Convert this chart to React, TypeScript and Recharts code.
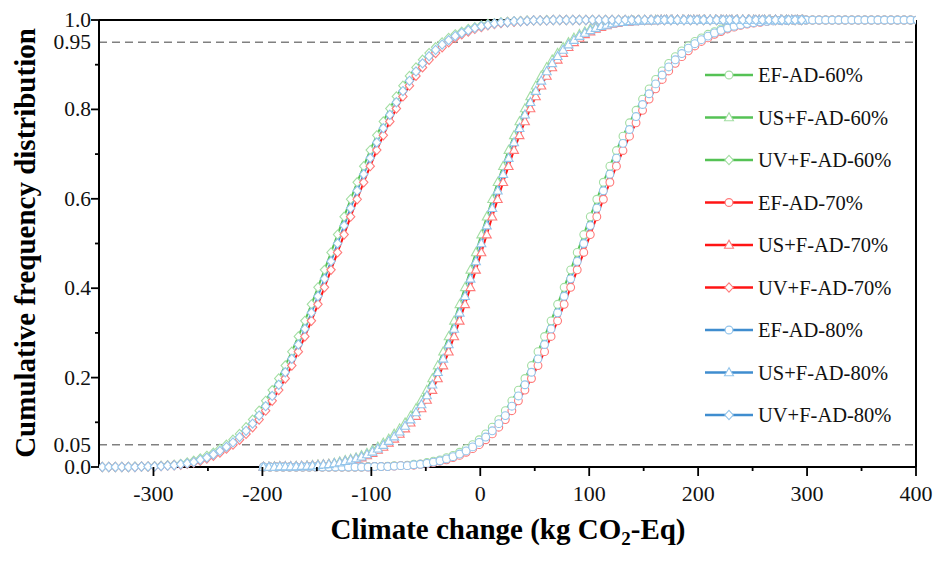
import React from 'react';
import { LineChart, Line, XAxis, YAxis, ReferenceLine } from 'recharts';

// x positions (kg CO2-Eq) of each group's samples
const uvX = [
  -353, -347, -341, -335, -329, -323, -317, -311, -305, -299,
  -293, -287, -281, -275, -269, -263, -257, -251, -245, -239,
  -233, -227, -221, -215, -209, -203, -197, -191, -185, -179,
  -173, -167, -161, -155, -149, -143, -137, -131, -125, -119,
  -113, -107, -101, -95, -89, -83, -77, -71, -65, -59,
  -53, -47, -41, -35, -29, -23, -17, -11, -5, 1,
  7, 13, 19, 25, 31, 37, 43, 49, 55, 61,
  67, 73, 79, 85, 91, 97, 103, 109, 115, 121,
  127, 133, 139, 145, 151, 157, 163, 169, 175, 181,
  187, 193, 199, 205, 211, 217, 223, 229, 235, 241,
  247, 253, 259, 265, 271, 277, 283, 289, 295,
];
const usX = [
  -199, -194, -189, -184, -179, -174, -169, -164, -159, -154,
  -149, -144, -139, -134, -129, -124, -119, -114, -109, -104,
  -99, -94, -89, -84, -79, -74, -69, -64, -59, -54,
  -49, -44, -39, -34, -29, -24, -19, -14, -9, -4,
  1, 6, 11, 16, 21, 26, 31, 36, 41, 46,
  51, 56, 61, 66, 71, 76, 81, 86, 91, 96,
  101, 106, 111, 116, 121, 126, 131, 136, 141, 146,
  151, 156, 161, 166, 171, 176, 181, 186, 191, 196,
  201, 206, 211, 216, 221, 226, 231, 236, 241, 246,
  251, 256, 261, 266, 271, 276, 281, 286, 291, 296,
];
const efX = [
  -199, -193, -187, -181, -175, -169, -163, -157, -151, -145,
  -139, -133, -127, -121, -115, -109, -103, -97, -91, -85,
  -79, -73, -67, -61, -55, -49, -43, -37, -31, -25,
  -19, -13, -7, -1, 5, 11, 17, 23, 29, 35,
  41, 47, 53, 59, 65, 71, 77, 83, 89, 95,
  101, 107, 113, 119, 125, 131, 137, 143, 149, 155,
  161, 167, 173, 179, 185, 191, 197, 203, 209, 215,
  221, 227, 233, 239, 245, 251, 257, 263, 269, 275,
  281, 287, 293, 299, 305, 311, 317, 323, 329, 335,
  341, 347, 353, 359, 365, 371, 377, 383, 389, 395,
  401,
];

// cumulative frequency of each scenario
const uv60 = [
  0, 0, 0, 0, 0, 0, 0.001, 0.001, 0.001, 0.002,
  0.003, 0.004, 0.005, 0.007, 0.01, 0.014, 0.019, 0.025, 0.032, 0.041,
  0.05, 0.061, 0.074, 0.089, 0.106, 0.126, 0.148, 0.172, 0.198, 0.227,
  0.258, 0.292, 0.327, 0.364, 0.402, 0.441, 0.48, 0.52, 0.56, 0.599,
  0.637, 0.673, 0.709, 0.742, 0.773, 0.802, 0.829, 0.853, 0.875, 0.894,
  0.911, 0.926, 0.939, 0.95, 0.96, 0.968, 0.974, 0.98, 0.984, 0.988,
  0.991, 0.993, 0.995, 0.996, 0.997, 0.998, 0.999, 0.999, 0.999, 1,
  1, 1, 1, 1, 1, 1, 1, 1, 1, 1,
  1, 1, 1, 1, 1, 1, 1, 1, 1, 1,
  1, 1, 1, 1, 1, 1, 1, 1, 1, 1,
  1, 1, 1, 1, 1, 1, 1, 1, 1,
];
const uv70 = [
  0, 0, 0, 0, 0, 0, 0, 0.001, 0.001, 0.001,
  0.002, 0.003, 0.004, 0.005, 0.007, 0.01, 0.014, 0.019, 0.025, 0.032,
  0.041, 0.05, 0.061, 0.074, 0.089, 0.106, 0.126, 0.148, 0.172, 0.198,
  0.227, 0.258, 0.292, 0.327, 0.364, 0.402, 0.441, 0.48, 0.52, 0.56,
  0.599, 0.637, 0.673, 0.709, 0.742, 0.773, 0.802, 0.829, 0.853, 0.875,
  0.894, 0.911, 0.926, 0.939, 0.95, 0.96, 0.968, 0.974, 0.98, 0.984,
  0.988, 0.991, 0.993, 0.995, 0.996, 0.997, 0.998, 0.999, 0.999, 0.999,
  1, 1, 1, 1, 1, 1, 1, 1, 1, 1,
  1, 1, 1, 1, 1, 1, 1, 1, 1, 1,
  1, 1, 1, 1, 1, 1, 1, 1, 1, 1,
  1, 1, 1, 1, 1, 1, 1, 1, 1,
];
const uv80 = [
  0, 0, 0, 0, 0, 0, 0, 0.001, 0.001, 0.001,
  0.002, 0.003, 0.004, 0.006, 0.008, 0.011, 0.016, 0.021, 0.028, 0.036,
  0.045, 0.055, 0.067, 0.081, 0.097, 0.115, 0.136, 0.159, 0.184, 0.212,
  0.242, 0.274, 0.309, 0.345, 0.382, 0.421, 0.46, 0.5, 0.54, 0.579,
  0.618, 0.655, 0.691, 0.726, 0.758, 0.788, 0.816, 0.841, 0.864, 0.885,
  0.903, 0.919, 0.933, 0.945, 0.955, 0.964, 0.971, 0.977, 0.982, 0.986,
  0.989, 0.992, 0.994, 0.995, 0.997, 0.997, 0.998, 0.999, 0.999, 0.999,
  1, 1, 1, 1, 1, 1, 1, 1, 1, 1,
  1, 1, 1, 1, 1, 1, 1, 1, 1, 1,
  1, 1, 1, 1, 1, 1, 1, 1, 1, 1,
  1, 1, 1, 1, 1, 1, 1, 1, 1,
];
const us60 = [
  0, 0, 0.001, 0.001, 0.001, 0.001, 0.002, 0.002, 0.003, 0.004,
  0.005, 0.006, 0.007, 0.009, 0.012, 0.015, 0.018, 0.021, 0.026, 0.031,
  0.038, 0.045, 0.054, 0.063, 0.074, 0.086, 0.099, 0.114, 0.131, 0.15,
  0.172, 0.198, 0.227, 0.258, 0.292, 0.327, 0.364, 0.402, 0.441, 0.48,
  0.52, 0.56, 0.599, 0.637, 0.673, 0.709, 0.742, 0.773, 0.802, 0.829,
  0.853, 0.875, 0.894, 0.911, 0.926, 0.939, 0.95, 0.96, 0.968, 0.974,
  0.98, 0.984, 0.988, 0.991, 0.993, 0.995, 0.996, 0.997, 0.998, 0.999,
  0.999, 0.999, 1, 1, 1, 1, 1, 1, 1, 1,
  1, 1, 1, 1, 1, 1, 1, 1, 1, 1,
  1, 1, 1, 1, 1, 1, 1, 1, 1, 1,
];
const us70 = [
  0, 0, 0, 0.001, 0.001, 0.001, 0.001, 0.002, 0.002, 0.003,
  0.004, 0.005, 0.006, 0.007, 0.009, 0.012, 0.015, 0.018, 0.021, 0.026,
  0.031, 0.038, 0.045, 0.054, 0.063, 0.074, 0.086, 0.099, 0.114, 0.131,
  0.15, 0.172, 0.198, 0.227, 0.258, 0.292, 0.327, 0.364, 0.402, 0.441,
  0.48, 0.52, 0.56, 0.599, 0.637, 0.673, 0.709, 0.742, 0.773, 0.802,
  0.829, 0.853, 0.875, 0.894, 0.911, 0.926, 0.939, 0.95, 0.96, 0.968,
  0.974, 0.98, 0.984, 0.988, 0.991, 0.993, 0.995, 0.996, 0.997, 0.998,
  0.999, 0.999, 0.999, 1, 1, 1, 1, 1, 1, 1,
  1, 1, 1, 1, 1, 1, 1, 1, 1, 1,
  1, 1, 1, 1, 1, 1, 1, 1, 1, 1,
];
const us80 = [
  0, 0, 0, 0.001, 0.001, 0.001, 0.001, 0.002, 0.002, 0.003,
  0.004, 0.005, 0.006, 0.008, 0.01, 0.013, 0.016, 0.019, 0.023, 0.028,
  0.034, 0.041, 0.049, 0.058, 0.068, 0.079, 0.092, 0.106, 0.122, 0.14,
  0.16, 0.184, 0.212, 0.242, 0.274, 0.309, 0.345, 0.382, 0.421, 0.46,
  0.5, 0.54, 0.579, 0.618, 0.655, 0.691, 0.726, 0.758, 0.788, 0.816,
  0.841, 0.864, 0.885, 0.903, 0.919, 0.933, 0.945, 0.955, 0.964, 0.971,
  0.977, 0.982, 0.986, 0.989, 0.992, 0.994, 0.995, 0.997, 0.997, 0.998,
  0.999, 0.999, 0.999, 1, 1, 1, 1, 1, 1, 1,
  1, 1, 1, 1, 1, 1, 1, 1, 1, 1,
  1, 1, 1, 1, 1, 1, 1, 1, 1, 1,
];
const ef60 = [
  0, 0, 0, 0, 0, 0, 0, 0, 0, 0,
  0, 0, 0, 0, 0, 0, 0.001, 0.001, 0.001, 0.002,
  0.003, 0.003, 0.004, 0.006, 0.007, 0.01, 0.013, 0.016, 0.021, 0.026,
  0.033, 0.041, 0.05, 0.061, 0.074, 0.089, 0.106, 0.126, 0.148, 0.172,
  0.198, 0.227, 0.258, 0.292, 0.327, 0.364, 0.402, 0.441, 0.48, 0.52,
  0.56, 0.599, 0.637, 0.673, 0.708, 0.74, 0.77, 0.798, 0.823, 0.846,
  0.867, 0.886, 0.903, 0.918, 0.931, 0.942, 0.952, 0.96, 0.968, 0.974,
  0.98, 0.984, 0.988, 0.991, 0.993, 0.995, 0.997, 0.998, 0.999, 0.999,
  1, 1, 1, 1, 1, 1, 1, 1, 1, 1,
  1, 1, 1, 1, 1, 1, 1, 1, 1, 1,
  1,
];
const ef70 = [
  0, 0, 0, 0, 0, 0, 0, 0, 0, 0,
  0, 0, 0, 0, 0, 0, 0, 0.001, 0.001, 0.001,
  0.002, 0.003, 0.003, 0.004, 0.006, 0.007, 0.01, 0.013, 0.016, 0.021,
  0.026, 0.033, 0.041, 0.05, 0.061, 0.074, 0.089, 0.106, 0.126, 0.148,
  0.172, 0.198, 0.227, 0.258, 0.292, 0.327, 0.364, 0.402, 0.441, 0.48,
  0.52, 0.56, 0.599, 0.637, 0.673, 0.708, 0.74, 0.77, 0.798, 0.823,
  0.846, 0.867, 0.886, 0.903, 0.918, 0.931, 0.942, 0.952, 0.96, 0.968,
  0.974, 0.98, 0.984, 0.988, 0.991, 0.993, 0.995, 0.997, 0.998, 0.999,
  0.999, 1, 1, 1, 1, 1, 1, 1, 1, 1,
  1, 1, 1, 1, 1, 1, 1, 1, 1, 1,
  1,
];
const ef80 = [
  0, 0, 0, 0, 0, 0, 0, 0, 0, 0,
  0, 0, 0, 0, 0, 0, 0, 0.001, 0.001, 0.001,
  0.002, 0.003, 0.003, 0.005, 0.006, 0.008, 0.011, 0.014, 0.018, 0.023,
  0.029, 0.036, 0.045, 0.055, 0.067, 0.081, 0.097, 0.115, 0.136, 0.159,
  0.184, 0.212, 0.242, 0.274, 0.309, 0.345, 0.382, 0.421, 0.46, 0.5,
  0.54, 0.579, 0.618, 0.655, 0.691, 0.724, 0.755, 0.784, 0.811, 0.835,
  0.857, 0.877, 0.895, 0.911, 0.925, 0.937, 0.947, 0.956, 0.964, 0.971,
  0.977, 0.982, 0.986, 0.989, 0.992, 0.994, 0.996, 0.997, 0.998, 0.999,
  0.999, 1, 1, 1, 1, 1, 1, 1, 1, 1,
  1, 1, 1, 1, 1, 1, 1, 1, 1, 1,
  1,
];

const xTicks = [-300, -250, -200, -150, -100, -50, 0, 50, 100, 150, 200, 250, 300, 350, 400];
const yTicks = [0, 0.05, 0.1, 0.2, 0.3, 0.4, 0.5, 0.6, 0.7, 0.8, 0.9, 0.95, 1];
const yLabels: Record<string, string> = {
  '0': '0.0', '0.05': '0.05', '0.2': '0.2', '0.4': '0.4', '0.6': '0.6',
  '0.8': '0.8', '0.95': '0.95', '1': '1.0',
};

const SERIF = { fontFamily: '"Liberation Serif", "Times New Roman", serif' };

const GREEN = { line: '#55c255', mark: '#a3dea3' };
const RED = { line: '#ff1414', mark: '#ff7a7a' };
const BLUE = { line: '#3f8dcf', mark: '#94c5eb' };

const series = [
  { name: 'EF-AD-60%', xs: efX, ys: ef60, shape: 'circle', c: GREEN },
  { name: 'US+F-AD-60%', xs: usX, ys: us60, shape: 'triangle', c: GREEN },
  { name: 'UV+F-AD-60%', xs: uvX, ys: uv60, shape: 'diamond', c: GREEN },
  { name: 'EF-AD-70%', xs: efX, ys: ef70, shape: 'circle', c: RED },
  { name: 'US+F-AD-70%', xs: usX, ys: us70, shape: 'triangle', c: RED },
  { name: 'UV+F-AD-70%', xs: uvX, ys: uv70, shape: 'diamond', c: RED },
  { name: 'EF-AD-80%', xs: efX, ys: ef80, shape: 'circle', c: BLUE },
  { name: 'US+F-AD-80%', xs: usX, ys: us80, shape: 'triangle', c: BLUE },
  { name: 'UV+F-AD-80%', xs: uvX, ys: uv80, shape: 'diamond', c: BLUE },
];

function Marker({ cx, cy, shape, stroke }: any) {
  if (cx == null || cy == null) return null;
  if (shape === 'circle') {
    return <circle cx={cx} cy={cy} r={3.9} fill="#fff" stroke={stroke} strokeWidth={1.1} />;
  }
  if (shape === 'triangle') {
    const pts = `${cx},${cy - 4.8} ${cx - 4.5},${cy + 3.3} ${cx + 4.5},${cy + 3.3}`;
    return <polygon points={pts} fill="#fff" stroke={stroke} strokeWidth={1.1} />;
  }
  const pts = `${cx},${cy - 4.6} ${cx + 4.2},${cy} ${cx},${cy + 4.6} ${cx - 4.2},${cy}`;
  return <polygon points={pts} fill="#fff" stroke={stroke} strokeWidth={1.1} />;
}

const XTick = (props: any) => {
  const { x, y, payload } = props;
  const v = payload.value;
  const major = v % 100 === 0;
  return (
    <g>
      <line x1={x} y1={y} x2={x} y2={y + (major ? 9 : 4)} stroke="#000" strokeWidth={1.8} />
      {major && (
        <text x={x} y={y + 34} textAnchor="middle" fontSize={22} style={SERIF} fill="#111">
          {v}
        </text>
      )}
    </g>
  );
};

const YTick = (props: any) => {
  const { x, y, payload } = props;
  const v = payload.value;
  const label = yLabels[String(v)];
  const edge = v === 0.05 || v === 0.95;
  const len = label ? 8 : 4;
  return (
    <g>
      {!edge && <line x1={x} y1={y} x2={x - len} y2={y} stroke="#000" strokeWidth={1.8} />}
      {label && (
        <text x={x - 8} y={y + 7} textAnchor="end" fontSize={21.5} style={SERIF} fill="#111">
          {label}
        </text>
      )}
    </g>
  );
};

export default function App() {
  return (
    <div style={{ position: 'absolute', left: 0, top: 0, width: 939, height: 561, background: '#fff' }}>
      <LineChart width={939} height={561} margin={{ top: 20, right: 23, bottom: 34, left: 39 }}>
        <XAxis
          type="number"
          dataKey="x"
          domain={[-350, 400]}
          allowDataOverflow
          ticks={xTicks}
          interval={0}
          tickSize={0}
          tickMargin={0}
          tick={<XTick />}
          axisLine={{ stroke: '#000', strokeWidth: 2 }}
          height={60}
        />
        <YAxis
          type="number"
          domain={[0, 1]}
          ticks={yTicks}
          interval={0}
          tickSize={0}
          tickMargin={0}
          tick={<YTick />}
          axisLine={{ stroke: '#000', strokeWidth: 2 }}
          width={60}
        />
        <ReferenceLine y={1} stroke="#000" strokeWidth={2} />
        <ReferenceLine x={400} stroke="#000" strokeWidth={2} />
        <ReferenceLine y={0.95} stroke="#808080" strokeWidth={1.5} strokeDasharray="8 5" />
        <ReferenceLine y={0.05} stroke="#808080" strokeWidth={1.5} strokeDasharray="8 5" />
        {series.map((s) => (
          <Line
            key={s.name}
            name={s.name}
            data={s.xs.map((x, i) => ({ x, y: s.ys[i] }))}
            dataKey="y"
            type="linear"
            stroke={s.c.line}
            strokeWidth={2}
            dot={(p: any) => (
              <Marker key={`${s.name}-${p.index}`} cx={p.cx} cy={p.cy} shape={s.shape} stroke={s.c.mark} />
            )}
            activeDot={false}
            isAnimationActive={false}
          />
        ))}
      </LineChart>
      <svg
        width={939}
        height={561}
        style={{ position: 'absolute', left: 0, top: 0, pointerEvents: 'none', ...SERIF }}
      >
        <text
          transform="translate(35,243) rotate(-90)"
          textAnchor="middle"
          fontSize={29}
          fontWeight="bold"
          fill="#000"
          style={SERIF}
        >
          Cumulative frequency distribution
        </text>
        <text x={508} y={539} textAnchor="middle" fontSize={29} fontWeight="bold" fill="#000" style={SERIF}>
          Climate change (kg CO
          <tspan dy={6} fontSize={19}>2</tspan>
          <tspan dy={-6}>-Eq)</tspan>
        </text>
        {series.map((s, i) => {
          const cy = 75 + i * 42.5;
          return (
            <g key={s.name}>
              <line x1={705} y1={cy} x2={753} y2={cy} stroke={s.c.line} strokeWidth={2.5} />
              <Marker cx={729} cy={cy} shape={s.shape} stroke={s.c.mark} />
              <text x={758} y={cy + 7} fontSize={20.5} fill="#111" style={SERIF}>
                {s.name}
              </text>
            </g>
          );
        })}
      </svg>
    </div>
  );
}
